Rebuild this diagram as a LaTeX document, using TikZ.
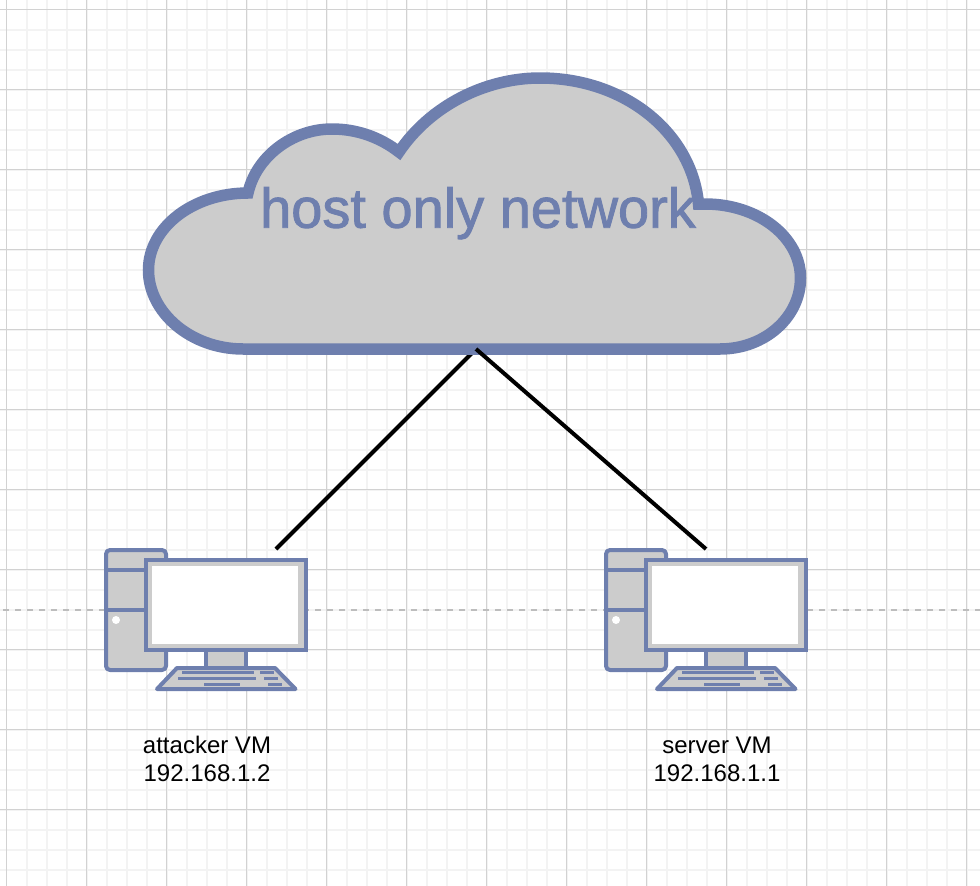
\documentclass[tikz,border=0pt]{standalone}
\usepackage{fontspec}
\setmainfont{Liberation Sans}
\newfontfamily\cloudfont[FakeBold=1.5]{Liberation Sans}
\usetikzlibrary{positioning}

\definecolor{iconblue}{HTML}{6E7FAE}
\definecolor{icongrey}{HTML}{CCCCCC}
\definecolor{gridmajor}{HTML}{D2D2D2}
\definecolor{gridminor}{HTML}{F3F3F3}
\definecolor{pagebreak}{HTML}{BDBDBD}

\tikzset{
    iconpart/.style={draw=iconblue, fill=icongrey, line width=4pt, line join=round},
    keybar/.style={draw=iconblue, line width=3.4pt},
    vmlabel/.style={align=center, inner sep=0pt, font=\fontsize{24}{28}\selectfont},
    linkline/.style={draw=black, line width=4pt},
    pcicon/.pic={
        % Tower
        \draw[iconpart, rounded corners=4pt] (0,0) rectangle (60,120);
        \draw[iconpart] (0,19.5) -- (60,19.5);
        \draw[iconpart] (0,59.5) -- (60,59.5);
        \fill[white] (10,70) circle (4);
        % Monitor
        \draw[iconpart] (100,100) rectangle (140,118);
        \draw[iconpart, line join=miter] (40,10) rectangle (200,100);
        \fill[white] (45.7,15.7) rectangle (192.3,94);
        % Keyboard
        \draw[iconpart] (71,118) -- (169,118) -- (189.5,139) -- (51,139) -- cycle;
        \draw[keybar] (76,122.7) -- (148,122.7);
        \draw[keybar] (154,122.7) -- (168,122.7);
        \draw[keybar] (72,128.7) -- (150,128.7);
        \draw[keybar] (158,128.7) -- (172,128.7);
        \draw[keybar] (98,134.7) -- (134,134.7);
        \draw[keybar] (162,134.7) -- (176,134.7);
    }
}

\begin{document}
\begin{tikzpicture}[x=1pt, y=-1pt]
    \useasboundingbox (0,0) rectangle (980,886);

    % Grid
    \foreach \gx in {26.5,46.5,...,966.5}
        \draw[gridminor, line width=2pt] (\gx,0) -- (\gx,886);
    \foreach \gy in {29.5,49.5,...,869.5}
        \draw[gridminor, line width=2pt] (0,\gy) -- (980,\gy);
    \foreach \gx in {6.5,86.5,...,966.5}
        \draw[gridmajor, line width=1pt] (\gx,0) -- (\gx,886);
    \foreach \gy in {9.5,89.5,...,809.5}
        \draw[gridmajor, line width=1pt] (0,\gy) -- (980,\gy);

    % Page break
    \draw[pagebreak, line width=2pt, dash pattern=on 6pt off 6pt, dash phase=9pt] (0,609.5) -- (980,609.5);

    % Links
    \coordinate (attackerlink) at (276,549);
    \coordinate (serverlink) at (706,549);
    \coordinate (cloudlink) at (476,349);
    \draw[linkline] (attackerlink) -- (cloudlink);

    % Cloud
    \draw[draw=iconblue, fill=icongrey, line width=11.5pt, miter limit=10]
        (243,349) .. controls (190.8,349) and (148.5,312.4) .. (148.5,270)
        .. controls (148.5,227.5) and (193,193) .. (248,193)
        .. controls (256,157) and (292,129) .. (332,129)
        .. controls (358,129) and (381,138) .. (399,152)
        .. controls (430,106) and (485,78) .. (540,78)
        .. controls (625,78) and (692,133) .. (698.5,204)
        -- (705,204)
        .. controls (758,204) and (800.5,237) .. (800.5,278)
        .. controls (800.5,317) and (765,349) .. (720,349)
        -- cycle;
    \node[inner sep=0pt, text=iconblue, font=\cloudfont\fontsize{56}{60}\selectfont, anchor=base] (cloudtext) at (478,227.7) {host only network};

    % This link runs over the cloud outline
    \draw[linkline] (cloudlink) -- (serverlink);

    % Computers
    \pic (attacker) at (106,550) {pcicon};
    \pic (server) at (606,550) {pcicon};

    % Labels
    \node[vmlabel] (attackerlabel) at (207,759) {attacker VM\\192.168.1.2};
    \node[vmlabel] (serverlabel) at (717,759) {server VM\\192.168.1.1};
\end{tikzpicture}
\end{document}
